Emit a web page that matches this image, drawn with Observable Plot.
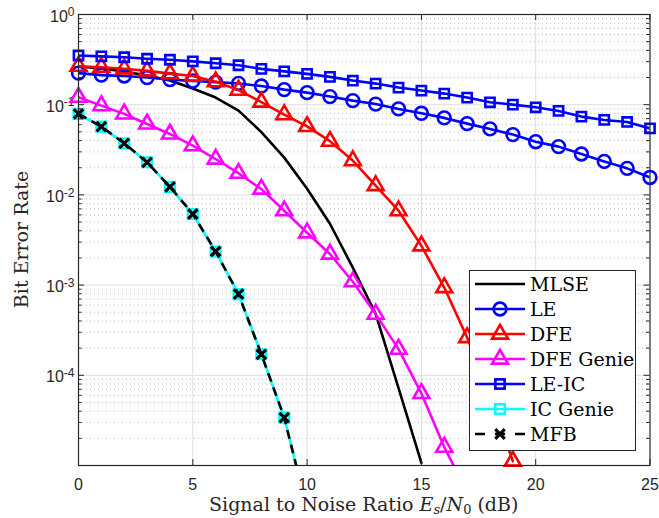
<!DOCTYPE html>
<html>
<head>
<meta charset="utf-8">
<script src="https://cdn.jsdelivr.net/npm/d3@7"></script>
<script src="https://cdn.jsdelivr.net/npm/@observablehq/plot@0.6"></script>
<style>
  body { margin: 0; background: #fff; }
</style>
</head>
<body>
<div id="chart"></div>
<script>
// ---------------- data ----------------
const seriesNames = ["MLSE", "LE", "DFE", "DFE Genie", "LE-IC", "IC Genie", "MFB"];

const snrMLSE = [0,1,2,3,4,5,6,7,8,9,10,11,12,13,14,15];
const berMLSE = [0.265,0.252,0.233,0.210,0.185,0.151,0.120,0.086,0.0497,0.0259,0.0117,0.00479,0.00156,0.00048,7.2e-5,1.07e-5];

const snrLE = [0,1,2,3,4,5,6,7,8,9,10,11,12,13,14,15,16,17,18,19,20,21,22,23,24,25];
const berLE = [0.224,0.213,0.208,0.200,0.190,0.183,0.178,0.172,0.161,0.147,0.136,0.123,0.111,0.1016,0.0898,0.0803,0.0714,0.0617,0.0539,0.0466,0.0389,0.0343,0.0284,0.0235,0.0197,0.0156];

const snrDFE = [0,1,2,3,4,5,6,7,8,9,10,11,12,13,14,15,16,17,18,19];
const berDFE = [0.267,0.260,0.250,0.237,0.221,0.208,0.180,0.145,0.107,0.0776,0.0574,0.0394,0.0240,0.0127,0.00668,0.00273,0.00094,0.000262,5.9e-5,1.12e-5];

const snrDFEGenie = [0,1,2,3,4,5,6,7,8,9,10,11,12,13,14,15,16,17];
const berDFEGenie = [0.121,0.0977,0.0791,0.0612,0.0474,0.0352,0.0250,0.0174,0.0116,0.00668,0.00380,0.00221,0.00109,0.000477,0.000195,6.3e-5,1.60e-5,5.1e-6];

const snrLEIC = [0,1,2,3,4,5,6,7,8,9,10,11,12,13,14,15,16,17,18,19,20,21,22,23,24,25];
const berLEIC = [0.351,0.3436,0.3357,0.3231,0.3149,0.3023,0.2880,0.2737,0.2496,0.2342,0.2197,0.2035,0.1851,0.1714,0.1548,0.1434,0.1328,0.1199,0.1063,0.1003,0.0936,0.0853,0.0738,0.0678,0.0644,0.0546];

const snrICGenie = [0,1,2,3,4,5,6,7,8,9,10];
const berICGenie = [0.0791,0.0572,0.0373,0.0230,0.0123,0.00614,0.00236,0.000794,0.000171,3.39e-5,3.3e-6];

const snrMFB = [0,1,2,3,4,5,6,7,8,9,10];
const berMFB = [0.0791,0.0572,0.0373,0.0230,0.0123,0.00614,0.00236,0.000794,0.000171,3.39e-5,3.3e-6];

const xTicks = [0, 5, 10, 15, 20, 25];
const yTicks = [1, 0.1, 0.01, 0.001, 0.0001];
const yTickExponents = ["0", "-1", "-2", "-3", "-4"];
const yDomain = [1e-5, 1];
const xDomain = [0, 25];

const xLabelText = "Signal to Noise Ratio ";
const yLabelText = "Bit Error Rate";

// ---------------- layout / style ----------------
const W = 659, H = 518;
const mL = 78, mR = 9.5, mT = 14, mB = 53;
const pw = W - mL - mR, ph = H - mT - mB;
const LW = 2.6;
const axisColor = "#262626";

const table = (xs, ys) => xs.map((x, i) => ({snr: x, ber: ys[i]}));

const series = [
  {name: seriesNames[0], data: table(snrMLSE, berMLSE), color: "#000000", symbol: null},
  {name: seriesNames[1], data: table(snrLE, berLE), color: "#0000ff", symbol: "circle", r: 6.4},
  {name: seriesNames[2], data: table(snrDFE, berDFE), color: "#ff0000", symbol: "triangle", r: 5.9},
  {name: seriesNames[3], data: table(snrDFEGenie, berDFEGenie), color: "#ff00ff", symbol: "triangle", r: 5.9},
  {name: seriesNames[4], data: table(snrLEIC, berLEIC), color: "#0000ff", symbol: "square", r: 5.2},
  {name: seriesNames[5], data: table(snrICGenie, berICGenie), color: "#00ffff", symbol: "square", r: 5.4},
  {name: seriesNames[6], data: table(snrMFB, berMFB), color: "#000000", symbol: "times", r: 4.4, dash: "9,6", sw: 3.2}
];

// minor log ticks between decades
const yMinor = [];
for (let e = -5; e < 0; e++) for (let m = 2; m <= 9; m++) yMinor.push(m * Math.pow(10, e));

const marks = [
  Plot.ruleX(xTicks.filter(d => d > xDomain[0] && d < xDomain[1]), {x: d => d, stroke: "#dedede", strokeWidth: 1}),
  Plot.ruleY(yMinor, {y: d => d, stroke: "#bdbdbd", strokeWidth: 1, strokeDasharray: "1,3"}),
  Plot.ruleY(yTicks.filter(d => d > yDomain[0] && d < yDomain[1]), {y: d => d, stroke: "#dedede", strokeWidth: 1})
];

for (const s of series) {
  marks.push(Plot.line(s.data, {
    x: "snr", y: "ber", stroke: s.color, strokeWidth: LW, clip: true,
    strokeDasharray: s.dash || null, strokeLinecap: s.dash ? "butt" : "round", strokeLinejoin: "round"
  }));
  if (s.symbol) {
    marks.push(Plot.dot(s.data, {
      x: "snr", y: "ber", symbol: s.symbol, r: s.r, fill: "none",
      stroke: s.color, strokeWidth: s.sw || LW,
      filter: d => d.ber >= yDomain[0]
    }));
  }
}

marks.push(
  Plot.frame({stroke: axisColor, strokeWidth: 1.2}),
  Plot.ruleX(xTicks, {x: d => d, insetTop: ph - 6, stroke: axisColor}),
  Plot.ruleX(xTicks, {x: d => d, insetBottom: ph - 6, stroke: axisColor}),
  Plot.ruleY(yTicks, {y: d => d, insetRight: pw - 6, stroke: axisColor}),
  Plot.ruleY(yTicks, {y: d => d, insetLeft: pw - 6, stroke: axisColor}),
  Plot.ruleY(yMinor, {y: d => d, insetRight: pw - 3.5, stroke: axisColor}),
  Plot.ruleY(yMinor, {y: d => d, insetLeft: pw - 3.5, stroke: axisColor})
);

const plot = Plot.plot({
  width: W, height: H,
  marginLeft: mL, marginRight: mR, marginTop: mT, marginBottom: mB,
  style: {fontFamily: "'Liberation Sans', Arial, Helvetica, sans-serif", fontSize: "16px", background: "#fff", color: "#262626"},
  x: {domain: xDomain, ticks: xTicks, tickSize: 0, tickPadding: 13, label: null, tickFormat: d => String(d)},
  y: {type: "log", domain: yDomain, ticks: yTicks, tickSize: 0, tickPadding: 4, label: null,
      tickFormat: d => "10^" + yTickExponents[yTicks.indexOf(d)]},
  marks
});

document.getElementById("chart").appendChild(plot);

const svg = d3.select(plot);

// rebuild y tick labels with real superscripts
svg.selectAll("text").each(function() {
  const t = this.textContent;
  const m = /^10\^(.*)$/.exec(t);
  if (!m) return;
  const el = d3.select(this);
  el.text(null).attr("font-size", 16).style("font-size", "16px");
  const tr = this.getAttribute("transform") || "";
  el.attr("transform", tr + " translate(0,2)");
  el.append("tspan").text("10");
  el.append("tspan").attr("dy", "-0.45em").attr("font-size", 12).style("font-size", "12px").text(m[1]);
});

const serif = "'DejaVu Serif', 'Liberation Serif', serif";

// x axis label
const xl = svg.append("text")
  .attr("x", mL + pw / 2).attr("y", 511)
  .attr("text-anchor", "middle")
  .attr("font-family", serif).style("font-family", serif)
  .attr("font-size", 19).style("font-size", "19px")
  .attr("fill", "#262626");
xl.append("tspan").text(xLabelText);
xl.append("tspan").attr("font-style", "italic").text("E");
xl.append("tspan").attr("font-style", "italic").attr("font-size", 13).style("font-size", "13px").attr("dy", 3).text("s");
xl.append("tspan").attr("dy", -3).text("/");
xl.append("tspan").attr("font-style", "italic").text("N");
xl.append("tspan").attr("font-size", 13).style("font-size", "13px").attr("dy", 3).text("0");
xl.append("tspan").attr("dy", -3).text(" (dB)");

// y axis label
svg.append("text")
  .attr("transform", `translate(28,${mT + ph / 2}) rotate(-90)`)
  .attr("text-anchor", "middle")
  .attr("font-family", serif).style("font-family", serif)
  .attr("font-size", 19).style("font-size", "19px")
  .attr("fill", "#262626")
  .text(yLabelText);

// legend
const symMap = {circle: d3.symbolCircle, triangle: d3.symbolTriangle, square: d3.symbolSquare, times: d3.symbolTimes};
const lg = svg.append("g");
lg.append("rect").attr("x", 469.5).attr("y", 270.5).attr("width", 166).attr("height", 180)
  .attr("fill", "#fff").attr("stroke", axisColor).attr("stroke-width", 1);
series.forEach((s, i) => {
  const cy = 284 + i * 25;
  lg.append("line").attr("x1", 475).attr("x2", 525).attr("y1", cy).attr("y2", cy)
    .attr("stroke", s.color).attr("stroke-width", LW)
    .attr("stroke-dasharray", s.dash ? "10,10" : null);
  if (s.symbol) {
    lg.append("path").attr("transform", `translate(500,${cy})`)
      .attr("d", d3.symbol(symMap[s.symbol], s.r * s.r * Math.PI)())
      .attr("fill", "none").attr("stroke", s.color).attr("stroke-width", s.sw || LW);
  }
  lg.append("text").attr("x", 530).attr("y", cy + 6.8)
    .attr("font-family", serif).style("font-family", serif)
    .attr("font-size", 19).style("font-size", "19px")
    .attr("text-anchor", "start").attr("fill", "#000")
    .text(s.name);
});
</script>
</body>
</html>
